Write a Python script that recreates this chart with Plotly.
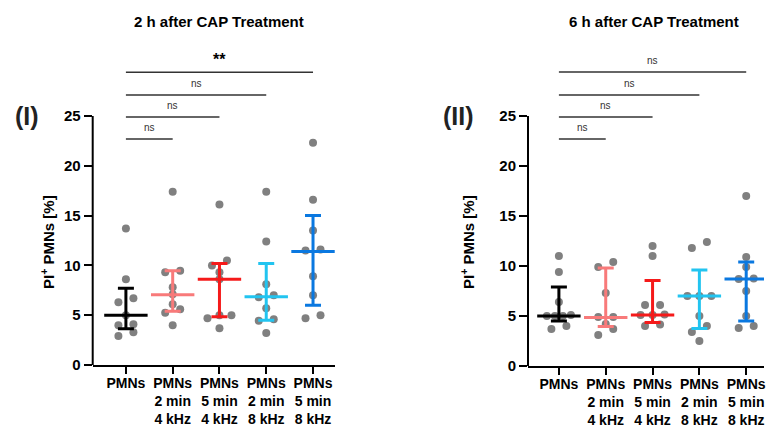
import plotly.graph_objects as go

# ---------------- data ----------------
categories = ["PMNs", "PMNs<br>2 min<br>4 kHz", "PMNs<br>5 min<br>4 kHz",
              "PMNs<br>2 min<br>8 kHz", "PMNs<br>5 min<br>8 kHz"]

# Panel I : 2 h after CAP treatment
p1_pmns   = [13.7, 8.6, 6.7, 6.3, 5.0, 4.1, 4.0, 3.3, 2.9]
p1_2min4  = [17.4, 9.45, 9.3, 7.8, 7.1, 6.1, 5.6, 5.25, 4.0]
p1_5min4  = [16.1, 10.5, 10.0, 9.3, 8.6, 5.0, 5.0, 4.7, 3.7]
p1_2min8  = [17.4, 12.4, 8.1, 7.0, 6.8, 5.7, 4.6, 4.45, 3.2]
p1_5min8  = [22.3, 16.6, 13.5, 11.6, 11.5, 8.9, 7.0, 5.0, 4.7]
p1_median = [5.0, 7.05, 8.6, 6.85, 11.4]
p1_low    = [3.65, 5.4, 4.85, 4.5, 6.0]
p1_high   = [7.7, 9.45, 10.2, 10.2, 15.0]

# Panel II : 6 h after CAP treatment
p2_pmns   = [11.0, 9.4, 6.4, 5.1, 5.0, 5.0, 5.0, 4.0, 3.7]
p2_2min4  = [10.4, 9.9, 7.3, 4.9, 4.9, 4.2, 3.7, 3.1]
p2_5min4  = [12.0, 11.0, 6.1, 6.1, 5.15, 5.1, 5.1, 4.15, 4.0]
p2_2min8  = [12.4, 11.8, 7.0, 7.0, 7.0, 5.0, 4.0, 3.4, 2.5]
p2_5min8  = [17.0, 10.9, 9.9, 8.75, 8.7, 7.5, 5.0, 4.0, 3.8]
p2_median = [5.0, 4.85, 5.1, 7.0, 8.7]
p2_low    = [4.5, 3.95, 4.35, 3.75, 4.5]
p2_high   = [7.9, 9.8, 8.55, 9.6, 10.4]

# significance brackets: (from index, to index, label)
p1_sig = [(0, 1, "ns"), (0, 2, "ns"), (0, 3, "ns"), (0, 4, "**")]
p2_sig = [(0, 1, "ns"), (0, 2, "ns"), (0, 3, "ns"), (0, 4, "ns")]
sig_levels = [22.7, 24.9, 27.1, 29.4]

y_ticks = [0, 5, 10, 15, 20, 25]

# ---------------- styling ----------------
colors = ["#000000", "#F87A7A", "#F51A1A", "#22C4F0", "#0A78E0"]
dot_color = "#808080"
FONT = "Arial, Liberation Sans, sans-serif"
PX_X = 46.8   # pixels per category unit
DOT = 8
ROW_BIN = 0.65  # y units grouped into one swarm row


def swarm(values, center):
    """row-based beeswarm: close values share a row, spread symmetrically"""
    vals = sorted(values)
    rows = []
    for v in vals:
        if rows and v - rows[-1][0] < ROW_BIN:
            rows[-1].append(v)
        else:
            rows.append([v])
    xs, ys = [], []
    for r in rows:
        n = len(r)
        hw = min(7.5 * (n - 1), 12.0)
        for k, v in enumerate(r):
            off = 0 if n == 1 else -hw + 2 * hw * k / (n - 1)
            xs.append(center + off / PX_X)
            ys.append(v)
    return xs, ys


fig = go.Figure()

panels = [
    dict(groups=[p1_pmns, p1_2min4, p1_5min4, p1_2min8, p1_5min8],
         med=p1_median, lo=p1_low, hi=p1_high, sig=p1_sig, xa="x", ya="y"),
    dict(groups=[p2_pmns, p2_2min4, p2_5min4, p2_2min8, p2_5min8],
         med=p2_median, lo=p2_low, hi=p2_high, sig=p2_sig, xa="x2", ya="y2"),
]

for p in panels:
    # dots
    for i, g in enumerate(p["groups"]):
        xs, ys = swarm(g, i)
        fig.add_trace(go.Scatter(
            x=xs, y=ys, mode="markers", xaxis=p["xa"], yaxis=p["ya"],
            marker=dict(size=DOT, color=dot_color), showlegend=False,
            hoverinfo="y"))
    # median + interquartile range
    for i in range(len(categories)):
        fig.add_trace(go.Scatter(
            x=[i], y=[p["med"][i]], mode="markers", xaxis=p["xa"], yaxis=p["ya"],
            marker=dict(symbol="line-ew", size=31,
                        line=dict(width=3, color=colors[i])),
            error_y=dict(type="data", symmetric=False,
                         array=[p["hi"][i] - p["med"][i]],
                         arrayminus=[p["med"][i] - p["lo"][i]],
                         color=colors[i], thickness=3, width=8),
            showlegend=False, hoverinfo="y"))
    # brackets
    for (a, b, lab), lev in zip(p["sig"], sig_levels):
        fig.add_shape(type="line", x0=a, x1=b, y0=lev, y1=lev,
                      xref=p["xa"], yref=p["ya"],
                      line=dict(color="#333333", width=1.5))
        if lab == "**":
            fig.add_annotation(x=(a + b) / 2, y=lev + 1.25, xref=p["xa"], yref=p["ya"],
                               text="<b>**</b>", showarrow=False,
                               xanchor="center", yanchor="middle",
                               font=dict(family=FONT, size=16, color="#000"))
        else:
            fig.add_annotation(x=(a + b) / 2, y=lev + 1.15, xref=p["xa"], yref=p["ya"],
                               text=lab, showarrow=False,
                               xanchor="center", yanchor="middle",
                               font=dict(family=FONT, size=10, color="#333"))
    # y axis line only from 0 to 25
    fig.add_shape(type="line", x0=0, x1=0, y0=0, y1=25,
                  xref=p["xa"] + " domain", yref=p["ya"],
                  line=dict(color="#000", width=2))

axis_font = dict(family=FONT, size=15, color="#000", weight="bold")
xtick_font = dict(family=FONT, size=14, color="#000", weight="bold")

common_x = dict(tickvals=list(range(len(categories))), ticktext=categories,
                showline=True, linewidth=2, linecolor="#000", ticks="outside",
                ticklen=7, tickwidth=2, tickcolor="#000", showgrid=False,
                zeroline=False, tickfont=xtick_font, fixedrange=True,
                automargin=False, ticklabelstandoff=-3)
common_y = dict(range=[0, 31], tickvals=y_ticks, ticktext=[str(t) for t in y_ticks],
                showline=False, ticks="outside", ticklen=8, tickwidth=2,
                tickcolor="#000", showgrid=False, zeroline=False,
                tickfont=axis_font, fixedrange=True, automargin=False)

fig.update_layout(
    width=770, height=430, autosize=False,
    margin=dict(l=0, r=0, t=0, b=0, autoexpand=False),
    paper_bgcolor="white", plot_bgcolor="white",
    xaxis=dict(common_x, domain=[92.7 / 770, 335 / 770], range=[-0.71, 4.47], anchor="y"),
    yaxis=dict(common_y, domain=[(430 - 365) / 430, (430 - 56.2) / 430], anchor="x"),
    xaxis2=dict(common_x, domain=[528 / 770, 764 / 770], range=[-0.66, 4.38], anchor="y2"),
    yaxis2=dict(common_y, domain=[(430 - 366) / 430, (430 - 56) / 430], anchor="x2"),
)

# titles and labels
for xc, txt in [(219, "2 h after CAP Treatment"), (654, "6 h after CAP Treatment")]:
    fig.add_annotation(x=xc / 770, y=1 - 21 / 430, xref="paper", yref="paper",
                       text="<b>" + txt + "</b>", showarrow=False,
                       xanchor="center", yanchor="middle",
                       font=dict(family=FONT, size=15, color="#000"))
for xc, txt in [(27, "(I)"), (458, "(II)")]:
    fig.add_annotation(x=xc / 770, y=1 - 116 / 430, xref="paper", yref="paper",
                       text="<b>" + txt + "</b>", showarrow=False,
                       xanchor="center", yanchor="middle",
                       font=dict(family=FONT, size=25, color="#222"))
for xc in [47, 467]:
    fig.add_annotation(x=xc / 770, y=1 - 242 / 430, xref="paper", yref="paper",
                       text="<b>PI<sup>+</sup> PMNs [%]</b>", showarrow=False,
                       textangle=-90, xanchor="center", yanchor="middle",
                       font=dict(family=FONT, size=15, color="#000"))

fig.write_html("out.html")
